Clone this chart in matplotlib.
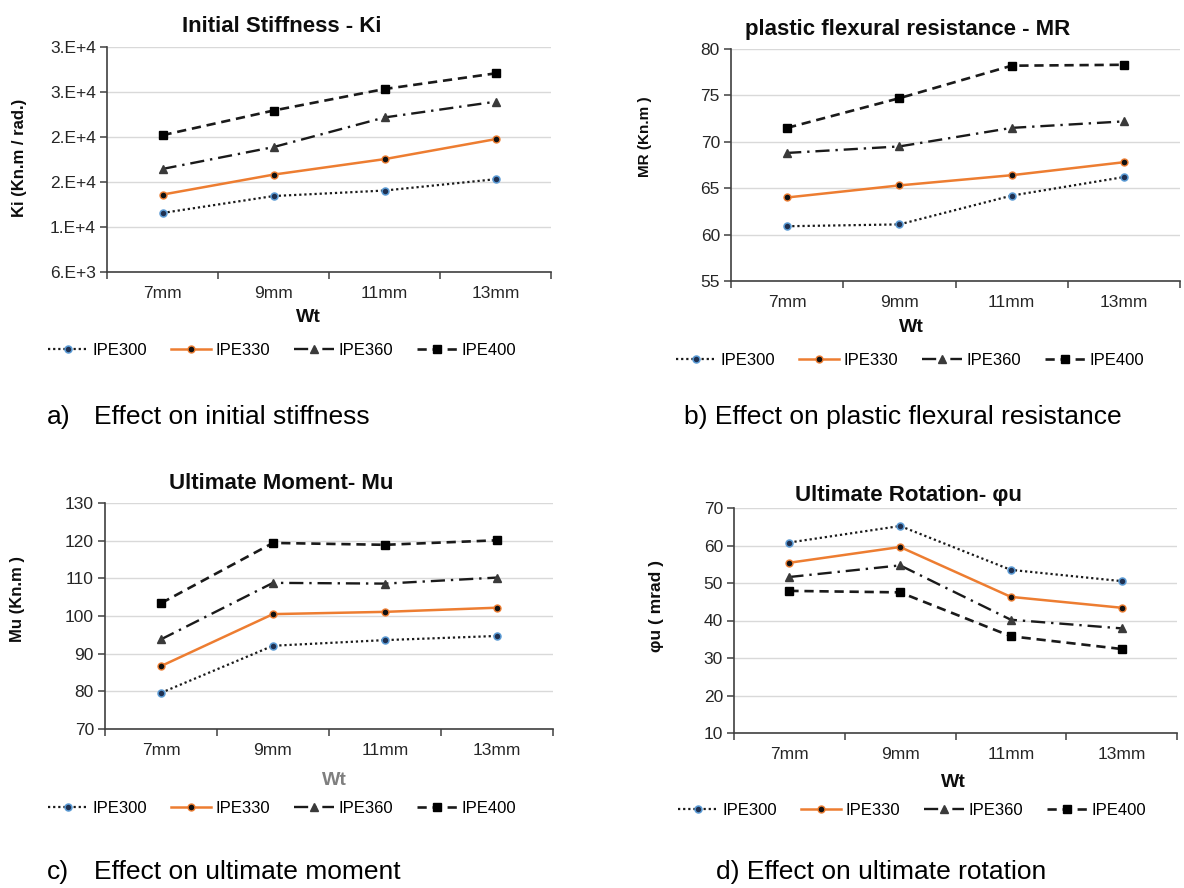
import matplotlib
matplotlib.use('Agg')
import matplotlib.pyplot as plt
from matplotlib import font_manager
from matplotlib.ticker import FixedLocator, FuncFormatter

plt.rcParams['font.family'] = ['Liberation Sans', 'DejaVu Sans']

categories = ['7mm', '9mm', '11mm', '13mm']
series_names = ['IPE300', 'IPE330', 'IPE360', 'IPE400']

ki_300 = [12560, 14440, 15050, 16310]
ki_330 = [14600, 16820, 18540, 20760]
ki_360 = [17450, 19880, 23170, 24920]
ki_400 = [21200, 23940, 26330, 28070]

mr_300 = [60.9, 61.1, 64.2, 66.2]
mr_330 = [64.0, 65.3, 66.4, 67.8]
mr_360 = [68.8, 69.5, 71.5, 72.2]
mr_400 = [71.5, 74.7, 78.2, 78.3]

mu_300 = [79.6, 92.1, 93.6, 94.7]
mu_330 = [86.7, 100.5, 101.1, 102.2]
mu_360 = [93.8, 108.8, 108.6, 110.2]
mu_400 = [103.4, 119.4, 118.9, 120.1]

phi_300 = [60.8, 65.2, 53.5, 50.5]
phi_330 = [55.4, 59.6, 46.3, 43.4]
phi_360 = [51.6, 54.7, 40.2, 37.9]
phi_400 = [47.9, 47.5, 35.8, 32.4]

W, H = 1184, 888
fig = plt.figure(figsize=(W / 100, H / 100), dpi=100)

# narrow font for the captions if there is one
names = {f.name for f in font_manager.fontManager.ttflist}
if 'Liberation Sans Narrow' in names:
    cap_font, cap_size = 'Liberation Sans Narrow', 22
else:
    cap_font, cap_size = 'Liberation Sans', 19


def fx(x):
    return x / W


def fy(y):
    return 1 - y / H


styles = [
    dict(color='#1a1a1a', lw=1.6, ls=(0, (1, 1.3)), marker='o', ms=5,
         mfc='#1f3050', mec='#5b9bd5', mew=1.1),
    dict(color='#ed7d31', lw=1.8, ls='-', marker='o', ms=5,
         mfc='#111111', mec='#ed7d31', mew=1.0),
    dict(color='#1a1a1a', lw=1.7, ls=(0, (6, 2.5, 1, 2.5)), marker='^', ms=5.5,
         mfc='#3a3a3a', mec='#3a3a3a'),
    dict(color='#1a1a1a', lw=1.9, ls=(0, (3.5, 2.2)), marker='s', ms=6,
         mfc='#000000', mec='#000000'),
]


def panel(box, data, ylim, yticks, title, title_xy, ylabel, ylabel_xy, ylsize,
          xlabel_xy, xlabel_color, legend_xy, fmt=None):
    l, t, r, b = box
    ax = fig.add_axes([fx(l), fy(b), fx(r - l), (b - t) / H])
    x = list(range(len(categories)))
    for vals, name, st in zip(data, series_names, styles):
        ax.plot(x, vals, label=name, **st)
    ax.set_xlim(-0.5, len(categories) - 0.5)
    ax.set_ylim(*ylim)
    ax.set_yticks(yticks)
    if fmt is not None:
        ax.yaxis.set_major_formatter(FuncFormatter(fmt))
    ax.set_xticks(x)
    ax.set_xticklabels(categories)
    ax.xaxis.set_minor_locator(FixedLocator([i - 0.5 for i in range(len(categories) + 1)]))
    ax.tick_params(axis='x', which='major', length=0, pad=10, labelsize=12.5, labelcolor='#262626')
    ax.tick_params(axis='x', which='minor', length=5, width=1.1, color='#404040', direction='out')
    ax.tick_params(axis='y', length=5, width=1.1, color='#404040', direction='out',
                   labelsize=12.5, labelcolor='#262626', pad=3)
    ax.grid(axis='y', color='#d9d9d9', lw=1.0)
    ax.set_axisbelow(True)
    for s in ['top', 'right']:
        ax.spines[s].set_visible(False)
    for s in ['left', 'bottom']:
        ax.spines[s].set_color('#404040')
        ax.spines[s].set_linewidth(1.2)
    fig.text(fx(title_xy[0]), fy(title_xy[1]), title, ha='center', va='center',
             fontsize=16, fontweight='bold', color='#0d0d0d')
    fig.text(fx(ylabel_xy[0]), fy(ylabel_xy[1]), ylabel, ha='center', va='center',
             rotation=90, fontsize=ylsize, fontweight='bold', color='#0d0d0d')
    fig.text(fx(xlabel_xy[0]), fy(xlabel_xy[1]), 'Wt', ha='center', va='center',
             fontsize=14, fontweight='bold', color=xlabel_color)
    ax.legend(loc='center', bbox_to_anchor=(fx(legend_xy[0]), fy(legend_xy[1])),
              bbox_transform=fig.transFigure, ncol=4, frameon=False, fontsize=12,
              handlelength=2.4, handletextpad=0.3, columnspacing=1.4)
    return ax


def sci(v, pos):
    e = len(str(int(v))) - 1
    return '{:.0f}.E+{}'.format(v / 10 ** e, e)


panel((107, 47, 551, 272), [ki_300, ki_330, ki_360, ki_400], (6000, 31000),
      list(range(6000, 31001, 5000)), 'Initial Stiffness - Ki', (282, 27),
      'Ki (Kn.m / rad.)', (20, 158), 12, (308, 318), '#0d0d0d', (282, 350), fmt=sci)

panel((731, 49, 1180, 281), [mr_300, mr_330, mr_360, mr_400], (55, 80),
      list(range(55, 81, 5)), 'plastic flexural resistance - MR', (908, 30),
      'MR (Kn.m )', (645, 137), 11, (911, 328), '#0d0d0d', (910, 360))

panel((105, 503, 553, 729), [mu_300, mu_330, mu_360, mu_400], (70, 130),
      list(range(70, 131, 10)), 'Ultimate Moment- Mu', (281, 483),
      'Mu (Kn.m )', (18, 599), 12, (334, 780), '#7f7f7f', (282, 808))

panel((734, 508, 1177, 733), [phi_300, phi_330, phi_360, phi_400], (10, 70),
      list(range(10, 71, 10)), 'Ultimate Rotation- φu', (908, 495),
      'φu ( mrad )', (656, 606), 12.5, (953, 782), '#0d0d0d', (912, 810))

cap = dict(va='center', ha='left', fontsize=cap_size, family=cap_font, color='#000000')
fig.text(fx(47), fy(417), 'a)', **cap)
fig.text(fx(94), fy(417), 'Effect on initial stiffness', **cap)
fig.text(fx(684), fy(417), 'b) Effect on plastic flexural resistance', **cap)
fig.text(fx(47), fy(872), 'c)', **cap)
fig.text(fx(94), fy(872), 'Effect on ultimate moment', **cap)
fig.text(fx(716), fy(872), 'd) Effect on ultimate rotation', **cap)

fig.savefig('out.png', dpi=100, facecolor='white')
